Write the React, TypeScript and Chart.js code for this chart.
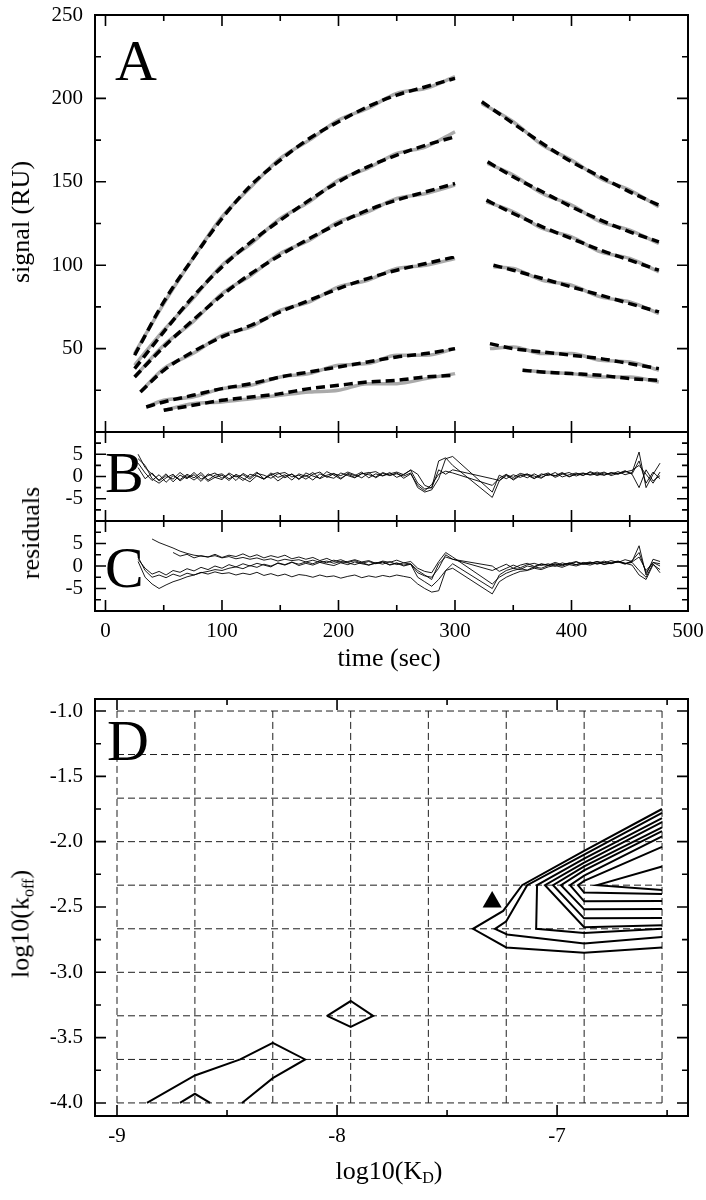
import React, { useEffect, useRef } from 'react';
import { Chart, registerables } from 'chart.js';
Chart.register(...registerables);

const FONT = '"Liberation Serif", "Times New Roman", serif';

// ---------- Panel A: sensorgrams (fit = black dashed, data = gray) ----------
const FIT1_ON_T = [25, 50, 75, 100, 125, 150, 175, 200, 225, 250, 275, 300];
const FIT1_ON = [46, 78, 104, 128, 148, 163, 176, 186, 195, 202, 207, 212];
const DAT1_ON = [47, 77, 104, 129, 147, 164, 175, 187, 194, 203, 206, 213];
const FIT1_OFF_T = [323, 350, 375, 400, 425, 450, 475];
const FIT1_OFF = [198, 185, 173, 162, 153, 144, 136];
const DAT1_OFF = [197, 186, 172, 163, 152, 145, 135];

const FIT2_ON_T = [25, 50, 75, 100, 125, 150, 175, 200, 225, 250, 275, 300];
const FIT2_ON = [38, 60, 81, 99, 114, 127, 139, 150, 159, 166, 172, 177];
const DAT2_ON = [40, 61, 80, 100, 113, 128, 138, 151, 158, 167, 171, 180];
const FIT2_OFF_T = [328, 350, 375, 400, 425, 450, 475];
const FIT2_OFF = [162, 153, 144, 135, 127, 120, 114];
const DAT2_OFF = [161, 154, 143, 136, 126, 121, 113];

const FIT3_ON_T = [25, 50, 75, 100, 125, 150, 175, 200, 225, 250, 275, 300];
const FIT3_ON = [33, 51, 67, 82, 95, 106, 116, 125, 133, 139, 144, 149];
const DAT3_ON = [33, 52, 66, 83, 94, 107, 115, 126, 132, 140, 143, 148];
const FIT3_OFF_T = [327, 350, 375, 400, 425, 450, 475];
const FIT3_OFF = [139, 131, 123, 116, 109, 103, 97];
const DAT3_OFF = [138, 132, 122, 117, 108, 104, 96];

const FIT4_ON_T = [30, 50, 75, 100, 125, 150, 175, 200, 225, 250, 275, 300];
const FIT4_ON = [24, 37, 48, 57, 64, 72, 79, 86, 92, 97, 101, 105];
const DAT4_ON = [24, 38, 47, 58, 63, 73, 78, 87, 91, 98, 100, 104];
const FIT4_OFF_T = [333, 350, 375, 400, 425, 450, 475];
const FIT4_OFF = [100, 97, 92, 87, 82, 77, 72];
const DAT4_OFF = [99, 98, 91, 88, 81, 78, 71];

const FIT5_ON_T = [35, 50, 75, 100, 125, 150, 175, 200, 225, 250, 275, 300];
const FIT5_ON = [15, 18, 22, 26, 29, 33, 36, 39, 42, 45, 47, 50];
const DAT5_ON = [15, 19, 21, 26, 28, 33, 35, 40, 41, 46, 46, 50];
const FIT5_OFF_T = [330, 350, 375, 400, 425, 450, 475];
const FIT5_OFF = [53, 50, 48, 46, 44, 41, 38];
const DAT5_OFF = [50, 51, 47, 47, 43, 42, 37];

const FIT6_ON_T = [50, 75, 100, 125, 150, 175, 200, 225, 250, 275, 300];
const FIT6_ON = [13, 16, 19, 21, 23, 26, 28, 30, 31, 33, 34];
const DAT6_ON = [13, 17, 18, 20, 22, 24, 25, 29, 29, 32, 35];
const FIT6_OFF_T = [358, 375, 400, 425, 450, 475];
const FIT6_OFF = [37, 36, 35, 34, 32, 31];
const DAT6_OFF = [37, 36, 35, 33, 33, 30];

// ---------- Panels B and C: residuals ----------
const RES_T = [28, 34, 40, 46, 52, 58, 64, 70, 76, 82, 88, 94, 100, 106, 112, 118, 124, 130, 136, 142,
  148, 154, 160, 166, 172, 178, 184, 190, 196, 202, 208, 214, 220, 226, 232, 238, 244, 250, 256, 262,
  268, 274, 280, 286, 292, 298,
  332, 338, 344, 350, 356, 362, 368, 374, 380, 386, 392, 398, 404, 410, 416, 422, 428, 434, 440, 446,
  452, 458, 464, 470, 476];

const RES_B1 = [5.0, 2.0, 0.5, -0.8, 0.6, -1.2, 0.3, -0.5, 0.9, -0.6, 0.2, 0.8, -0.4, 0.5, -0.9, 0.7, -0.2, 1.0, -0.5, 0.4,
  0.9, -0.3, 0.6, -0.7, 0.8, 0.1, -0.4, 1.1, 0.3, -0.6, 0.7, 0.2, 1.0, -0.3, 0.6, 0.1, 0.9, -0.2, 0.5, 1.4,
  -1.5, -2.8, -2.5, 3.5, 4.2, 2.5,
  -4.7, -1.0, 0.2, -0.6, 0.4, -0.3, 0.6, -0.2, 0.5, 0.1, 0.7, -0.1, 0.6, 0.3, 0.9, 0.2, 0.8, 0.5, 1.1, 0.4,
  0.9, 5.5, -2.5, 0.5, 3.0];
const RES_B2 = [3.0, 0.8, -0.9, 0.4, -1.3, 0.2, -0.7, 0.5, -0.3, 0.9, -0.8, 0.3, 0.6, -0.5, 0.2, -0.9, 0.5, 0.1, -0.6, 0.8,
  -0.2, 0.4, -0.8, 0.6, 0.0, 0.9, -0.5, 0.3, 0.7, -0.4, 0.5, -0.2, 0.6, 0.9, -0.3, 0.7, 0.2, 0.8, -0.4, 0.6,
  -2.0, -3.2, -1.8, 0.5, 1.2, 0.8,
  -2.0, -0.4, 0.5, -0.8, 0.2, 0.6, -0.4, 0.3, 0.8, -0.2, 0.5, 0.9, 0.1, 0.7, 0.4, 1.0, 0.3, 0.8, 0.5, 1.2,
  0.6, 3.5, -1.5, 1.0, -0.5];
const RES_B3 = [4.0, 2.5, -0.5, -1.5, -0.3, 0.5, -1.0, 0.2, -0.8, 0.4, -1.1, -0.2, 0.3, -0.9, 0.5, -0.4, -1.2, 0.2, -0.6, 0.4,
  -1.0, 0.1, 0.5, -0.5, 0.3, -0.8, 0.6, 0.0, -0.4, 0.8, 0.2, -0.3, 0.7, 0.4, -0.1, 0.9, 0.3, 0.6, 0.1, 0.8,
  -2.5, -3.5, -3.0, -0.5, 4.0, 4.5,
  -3.5, 0.3, -0.5, 0.4, -0.2, 0.5, 0.1, -0.4, 0.6, 0.2, 0.9, 0.0, 0.5, 0.8, 0.3, 0.6, 1.0, 0.2, 0.7, 1.3,
  0.5, -2.5, 1.5, -1.0, 0.2];
const RES_B4 = [2.0, -0.5, 0.8, -1.0, 0.2, -0.6, 0.9, -0.3, 0.4, -1.1, 0.6, -0.2, -0.7, 0.8, -0.1, 0.4, -0.6, 0.7, 0.3, -0.4,
  0.6, 0.9, -0.1, 0.3, -0.6, 0.5, 1.0, -0.2, 0.6, 0.2, 1.0, 0.4, -0.3, 0.8, 1.1, 0.2, 0.6, 1.0, 0.4, 1.5,
  0.5, -2.0, -2.6, 1.5, 0.5, 1.5,
  -0.5, -0.9, 0.4, -0.2, 0.7, 0.3, -0.5, 0.6, 0.2, 0.9, -0.1, 0.4, 0.8, 0.2, 1.1, 0.5, 0.3, 0.9, 0.6, 1.0,
  1.4, 2.5, 0.5, -1.5, 1.0];

const RES_C1 = [null, null, 6.0, 5.2, 4.6, 4.0, 3.3, 2.8, 2.4, 2.2, 2.0, 2.3, 1.8, 2.1, 1.6, 1.9, 1.5, 1.8, 1.3, 1.6,
  1.1, 1.5, 1.2, 1.4, 0.9, 1.3, 0.8, 1.1, 0.6, 1.0, 0.7, 0.3, 0.8, 0.2, 0.6, 0.9, 0.2, 0.6, 0.0, 0.4,
  -1.5, -2.2, -2.5, -0.5, 2.5, 1.5,
  -1.0, -0.3, 0.4, -0.5, 0.2, 0.6, -0.1, 0.5, 0.2, 0.8, 0.3, 0.6, 1.0, 0.4, 0.8, 0.5, 1.1, 0.6, 0.9, 0.4,
  1.2, 3.0, -1.5, 0.8, 0.5];
const RES_C2 = [1.0, -2.5, -4.0, -5.0, -4.2, -3.5, -3.0, -2.4, -2.0, -1.5, -1.2, -0.8, -1.0, -0.5, -0.2, -0.6, 0.1, -0.3, 0.4, 0.0,
  0.6, 0.2, 0.8, 0.4, 0.9, 0.5, 1.1, 0.7, 1.3, 0.8, 1.0, 1.4, 0.9, 1.2, 0.6, 1.1, 0.8, 1.3, 0.7, 1.0,
  -0.5, -1.2, -1.5, 1.0, 3.0, 2.0,
  -4.0, -2.5, -1.6, -1.0, -0.6, -0.9, -0.2, -0.5, 0.1, 0.4, 0.0, 0.6, 0.3, 0.8, 0.5, 1.0, 0.7, 1.2, 0.8, 1.4,
  1.0, 4.5, -2.0, 1.5, 1.0];
const RES_C3 = [2.0, -1.0, -2.5, -2.0, -2.6, -1.8, -2.3, -1.6, -2.0, -1.4, -1.8, -1.3, -1.7, -1.5, -2.0, -1.6, -1.9, -1.4, -2.1, -1.7,
  -2.2, -1.8, -2.4, -1.9, -2.1, -2.5, -2.0, -2.4, -2.2, -2.7, -2.3, -2.0, -2.6, -2.2, -2.5, -2.1, -2.4, -2.0, -2.3, -2.6,
  -4.0, -5.0, -5.8, -5.5, -1.0, -0.5,
  -6.2, -3.5, -2.5, -1.8, -1.2, -1.0, -0.5, -0.8, -0.2, 0.1, -0.3, 0.3, 0.0, 0.5, 0.2, 0.7, 0.4, 0.6, 1.0, 0.5,
  0.8, -1.0, -2.5, 0.5, -1.5];
const RES_C4 = [null, null, null, null, null, 3.0, 2.2, 2.6, 1.8, 2.3, 2.0, 2.6, 1.9, 2.4, 2.1, 2.7, 2.0, 2.5, 1.8, 2.3,
  1.9, 2.4, 1.6, 2.0, 1.5, 1.9, 1.2, 1.7, 1.0, 1.4, 0.8, 1.2, 0.6, 1.0, 0.5, 0.9, 0.3, 0.7, 0.2, 0.5,
  -1.0, -2.0, -3.0, 0.5, 2.0, 1.5,
  0.0, -1.2, -0.5, 0.2, -0.4, 0.3, 0.6, 0.1, 0.5, -0.1, 0.7, 0.3, 0.9, 0.4, 0.6, 1.0, 0.3, 0.8, 1.1, 0.6,
  0.9, 2.0, -1.0, 0.8, 0.0];
const RES_C5 = [1.5, -0.5, -1.8, -1.2, -2.0, -1.0, -1.4, -0.6, -1.1, -0.3, -0.8, 0.0, -0.5, 0.3, -0.2, 0.5, 0.0, 0.6, 0.2, -0.2,
  0.7, 0.3, 0.9, 0.1, 0.6, 0.2, 0.8, 0.4, 0.1, 0.7, 0.3, 0.9, 0.5, 0.2, 0.8, 0.4, 1.0, 0.3, 0.7, 0.4,
  -2.5, -3.5, -4.5, -3.0, -1.0, 0.5,
  -5.0, -2.0, -1.0, -0.5, -0.8, 0.0, -0.3, 0.4, 0.1, 0.5, 0.2, 0.7, 0.3, 0.6, 0.9, 0.4, 0.8, 0.5, 1.0, 0.6,
  0.2, -2.0, -3.0, 0.3, -0.8];

// ---------- Panel D: chi-square contour map ----------
const GRID_KD = [-9, -8.646, -8.292, -7.938, -7.585, -7.231, -6.877, -6.523];
const GRID_KOFF = [-4, -3.667, -3.333, -3, -2.667, -2.333, -2, -1.667, -1.333, -1];
const CONTOUR_1 = [[-8.864, -4], [-8.646, -3.79], [-8.44, -3.667], [-8.292, -3.54], [-8.145, -3.667], [-8.292, -3.81], [-8.432, -4]];
const CONTOUR_2 = [[-8.714, -4], [-8.646, -3.93], [-8.577, -4]];
const CONTOUR_3 = [[-8.045, -3.333], [-7.938, -3.22], [-7.836, -3.333], [-7.938, -3.418], [-8.045, -3.333]];
const CONTOUR_4 = [[-6.523, -1.75], [-6.877, -2.07], [-7.159, -2.333], [-7.245, -2.53], [-7.382, -2.667], [-7.231, -2.81], [-6.877, -2.85], [-6.523, -2.81]];
const CONTOUR_5 = [[-6.523, -1.78], [-6.877, -2.10], [-7.136, -2.333], [-7.231, -2.61], [-7.282, -2.667], [-7.227, -2.71], [-6.877, -2.78], [-6.523, -2.73]];
const CONTOUR_6 = [[-6.523, -1.82], [-6.877, -2.13], [-7.091, -2.333], [-7.095, -2.667], [-6.877, -2.70], [-6.523, -2.667]];
const CONTOUR_7 = [[-6.523, -1.85], [-6.877, -2.16], [-7.055, -2.333], [-6.877, -2.655], [-6.523, -2.64]];
const CONTOUR_8 = [[-6.523, -1.89], [-6.877, -2.19], [-7.018, -2.333], [-6.877, -2.587], [-6.523, -2.585]];
const CONTOUR_9 = [[-6.523, -1.92], [-6.877, -2.22], [-6.982, -2.333], [-6.877, -2.518], [-6.523, -2.515]];
const CONTOUR_10 = [[-6.523, -1.96], [-6.877, -2.26], [-6.941, -2.333], [-6.877, -2.457], [-6.523, -2.455]];
const CONTOUR_11 = [[-6.523, -2.04], [-6.877, -2.30], [-6.905, -2.333], [-6.877, -2.39], [-6.523, -2.40]];
const CONTOUR_12 = [[-6.523, -2.19], [-6.818, -2.333], [-6.523, -2.37]];
const BEST_FIT = [[-7.295, -2.462]];

// ---------- ticks ----------
const TIME_LABELS = [0, 100, 200, 300, 400, 500];
const TIME_MINOR = [50, 150, 250, 350, 450];
const SIGNAL_LABELS = [50, 100, 150, 200, 250];
const SIGNAL_MINOR = [25, 75, 125, 175, 225];
const RES_LABELS = [-5, 0, 5];
const RES_MINOR = [-7.5, -2.5, 2.5, 7.5];
const KD_LABELS = [-9, -8, -7];
const KD_MINOR = [-8.5, -7.5, -6.5];
const KOFF_LABELS = [-4, -3.5, -3, -2.5, -2, -1.5, -1];
const KOFF_MINOR = [-3.75, -3.25, -2.75, -2.25, -1.75, -1.25];

const tickFont = { family: FONT, size: 21 };

const framePlugin = {
  id: 'frame',
  afterDraw(chart: any, _args: any, opts: any) {
    const { ctx, chartArea, scales } = chart;
    const { left, right, top, bottom } = chartArea;
    const xs = scales.x;
    const ys = scales.y;
    ctx.save();
    ctx.strokeStyle = '#000';
    ctx.lineWidth = 1.6;
    ctx.beginPath();
    const seg = (x1: number, y1: number, x2: number, y2: number) => { ctx.moveTo(x1, y1); ctx.lineTo(x2, y2); };
    const xt = (vals: number[], len: number) => (vals || []).forEach((v) => {
      const p = xs.getPixelForValue(v);
      if (p <= left + 1 || p >= right - 1) return;
      seg(p, bottom, p, bottom - len); seg(p, top, p, top + len);
    });
    const yt = (vals: number[], len: number) => (vals || []).forEach((v) => {
      const p = ys.getPixelForValue(v);
      if (p <= top + 1 || p >= bottom - 1) return;
      seg(left, p, left + len, p); seg(right, p, right - len, p);
    });
    xt(opts.xMajor, 11); xt(opts.xMinor, 6); yt(opts.yMajor, 11); yt(opts.yMinor, 6);
    ctx.stroke();
    ctx.lineWidth = 2;
    ctx.strokeRect(left, top, right - left, bottom - top);
    if (opts.letter) {
      ctx.font = `58px ${FONT}`;
      ctx.fillStyle = '#000';
      ctx.textBaseline = 'alphabetic';
      ctx.textAlign = 'left';
      ctx.fillText(opts.letter, left + opts.dx, top + opts.dy);
    }
    ctx.restore();
  },
};

function yAxis(min: number, max: number, labels: number[], fmt?: (v: number) => string) {
  return {
    type: 'linear', min, max,
    afterFit: (s: any) => { s.width = 95; s.paddingTop = 0; s.paddingBottom = 0; },
    afterBuildTicks: (s: any) => { s.ticks = labels.map((v) => ({ value: v })); },
    grid: { display: false, drawTicks: false },
    border: { display: false },
    ticks: { font: tickFont, color: '#000', padding: 12, callback: (v: any) => (fmt ? fmt(Number(v)) : String(v)) },
  };
}

function xAxis(min: number, max: number, labels: number[] | null) {
  if (!labels) {
    return { type: 'linear', min, max, display: false, afterFit: (s: any) => { s.height = 0; s.paddingLeft = 0; s.paddingRight = 0; } };
  }
  return {
    type: 'linear', min, max,
    afterFit: (s: any) => { s.height = 30; s.paddingLeft = 0; s.paddingRight = 0; },
    afterBuildTicks: (s: any) => { s.ticks = labels.map((v) => ({ value: v })); },
    grid: { display: false, drawTicks: false },
    border: { display: false },
    ticks: { font: tickFont, color: '#000', padding: 8, maxRotation: 0, autoSkip: false, callback: (v: any) => String(v) },
  };
}

function baseOptions(padding: any, x: any, y: any, frame: any) {
  return {
    responsive: false,
    animation: false,
    events: [],
    layout: { padding },
    plugins: { legend: { display: false }, tooltip: { enabled: false }, frame },
    scales: { x, y },
  };
}

const pts = (t: number[], v: (number | null)[]) => t.map((x, i) => ({ x, y: v[i] }));

function fitSet(t: number[], v: number[]) {
  return { data: pts(t, v), borderColor: '#000', borderWidth: 3.5, borderDash: [9, 5], pointRadius: 0, cubicInterpolationMode: 'monotone', order: 1 };
}
function datSet(t: number[], v: number[]) {
  return { data: pts(t, v), borderColor: '#aaaaaa', borderWidth: 3.5, pointRadius: 0, cubicInterpolationMode: 'monotone', order: 2 };
}
function resSet(v: (number | null)[]) {
  return { data: pts(RES_T, v), borderColor: '#000', borderWidth: 0.9, pointRadius: 0, spanGaps: false };
}
function lineSet(p: number[][], dashed = false) {
  return {
    data: p.map(([x, y]) => ({ x, y })), showLine: true, pointRadius: 0,
    borderColor: dashed ? '#1e1e1e' : '#000', borderWidth: dashed ? 1 : 2, borderDash: dashed ? [7, 4] : [],
  };
}

export default function App() {
  const aRef = useRef<HTMLCanvasElement>(null);
  const bRef = useRef<HTMLCanvasElement>(null);
  const cRef = useRef<HTMLCanvasElement>(null);
  const dRef = useRef<HTMLCanvasElement>(null);

  useEffect(() => {
    const charts: Chart[] = [];
    const timeFrame = { xMajor: TIME_LABELS, xMinor: TIME_MINOR };

    charts.push(new Chart(aRef.current!, {
      type: 'line',
      data: {
        datasets: [
          fitSet(FIT1_ON_T, FIT1_ON), fitSet(FIT1_OFF_T, FIT1_OFF),
          fitSet(FIT2_ON_T, FIT2_ON), fitSet(FIT2_OFF_T, FIT2_OFF),
          fitSet(FIT3_ON_T, FIT3_ON), fitSet(FIT3_OFF_T, FIT3_OFF),
          fitSet(FIT4_ON_T, FIT4_ON), fitSet(FIT4_OFF_T, FIT4_OFF),
          fitSet(FIT5_ON_T, FIT5_ON), fitSet(FIT5_OFF_T, FIT5_OFF),
          fitSet(FIT6_ON_T, FIT6_ON), fitSet(FIT6_OFF_T, FIT6_OFF),
          datSet(FIT1_ON_T, DAT1_ON), datSet(FIT1_OFF_T, DAT1_OFF),
          datSet(FIT2_ON_T, DAT2_ON), datSet(FIT2_OFF_T, DAT2_OFF),
          datSet(FIT3_ON_T, DAT3_ON), datSet(FIT3_OFF_T, DAT3_OFF),
          datSet(FIT4_ON_T, DAT4_ON), datSet(FIT4_OFF_T, DAT4_OFF),
          datSet(FIT5_ON_T, DAT5_ON), datSet(FIT5_OFF_T, DAT5_OFF),
          datSet(FIT6_ON_T, DAT6_ON), datSet(FIT6_OFF_T, DAT6_OFF),
        ] as any,
      },
      options: baseOptions({ top: 15, bottom: 1, left: 0, right: 18 }, xAxis(-9, 500, null),
        yAxis(0, 250, SIGNAL_LABELS),
        { ...timeFrame, yMajor: SIGNAL_LABELS, yMinor: SIGNAL_MINOR, letter: 'A', dx: 20, dy: 65 }) as any,
      plugins: [framePlugin],
    }));

    charts.push(new Chart(bRef.current!, {
      type: 'line',
      data: { datasets: [resSet(RES_B1), resSet(RES_B2), resSet(RES_B3), resSet(RES_B4)] as any },
      options: baseOptions({ top: 12, bottom: 12, left: 0, right: 18 }, xAxis(-9, 500, null),
        yAxis(-10, 10, RES_LABELS),
        { ...timeFrame, yMajor: RES_LABELS, yMinor: RES_MINOR, letter: 'B', dx: 10, dy: 60 }) as any,
      plugins: [framePlugin],
    }));

    charts.push(new Chart(cRef.current!, {
      type: 'line',
      data: { datasets: [resSet(RES_C1), resSet(RES_C2), resSet(RES_C3), resSet(RES_C4), resSet(RES_C5)] as any },
      options: baseOptions({ top: 12, bottom: 18, left: 0, right: 18 }, xAxis(-9, 500, TIME_LABELS),
        yAxis(-10, 10, RES_LABELS),
        { ...timeFrame, yMajor: RES_LABELS, yMinor: RES_MINOR, letter: 'C', dx: 10, dy: 66 }) as any,
      plugins: [framePlugin],
    }));

    const gridSets = [
      ...GRID_KD.map((g) => lineSet([[g, -4], [g, -1]], true)),
      ...GRID_KOFF.map((g) => lineSet([[-9, g], [-6.523, g]], true)),
    ];
    charts.push(new Chart(dRef.current!, {
      type: 'scatter',
      data: {
        datasets: [
          { data: BEST_FIT.map(([x, y]) => ({ x, y })), pointStyle: 'triangle', pointRadius: 11, backgroundColor: '#000', borderColor: '#000', borderWidth: 0 },
          lineSet(CONTOUR_1), lineSet(CONTOUR_2), lineSet(CONTOUR_3), lineSet(CONTOUR_4), lineSet(CONTOUR_5),
          lineSet(CONTOUR_6), lineSet(CONTOUR_7), lineSet(CONTOUR_8), lineSet(CONTOUR_9), lineSet(CONTOUR_10),
          lineSet(CONTOUR_11), lineSet(CONTOUR_12),
          ...gridSets,
        ] as any,
      },
      options: baseOptions({ top: 19, bottom: 14, left: 0, right: 18 }, xAxis(-9.1, -6.405, KD_LABELS),
        yAxis(-4.1, -0.908, KOFF_LABELS, (v) => v.toFixed(1)),
        { xMajor: KD_LABELS, xMinor: KD_MINOR, yMajor: KOFF_LABELS, yMinor: KOFF_MINOR, letter: 'D', dx: 12, dy: 61 }) as any,
      plugins: [framePlugin],
    }));

    return () => charts.forEach((c) => c.destroy());
  }, []);

  const title: React.CSSProperties = { position: 'absolute', fontFamily: FONT, fontSize: 26, color: '#000', whiteSpace: 'nowrap', lineHeight: 1 };
  const rot = (x: number, y: number): React.CSSProperties => ({ ...title, left: x, top: y, transform: 'translate(-50%, -50%) rotate(-90deg)' });
  const hor = (x: number, y: number): React.CSSProperties => ({ ...title, left: x, top: y, transform: 'translate(-50%, -50%)' });
  const sub: React.CSSProperties = { fontSize: '0.62em', verticalAlign: '-0.3em' };

  return (
    <div style={{ position: 'absolute', left: 0, top: 0, width: 706, height: 1200, background: '#fff', overflow: 'hidden' }}>
      <canvas ref={aRef} width={706} height={433} style={{ position: 'absolute', left: 0, top: 0 }} />
      <canvas ref={bRef} width={706} height={113} style={{ position: 'absolute', left: 0, top: 420 }} />
      <canvas ref={cRef} width={706} height={150} style={{ position: 'absolute', left: 0, top: 509 }} />
      <canvas ref={dRef} width={706} height={480} style={{ position: 'absolute', left: 0, top: 680 }} />
      <div style={rot(21, 222)}>signal (RU)</div>
      <div style={rot(31, 533)}>residuals</div>
      <div style={hor(389, 658)}>time (sec)</div>
      <div style={rot(22, 924)}>log10(k<span style={sub}>off</span>)</div>
      <div style={hor(389, 1172)}>log10(K<span style={sub}>D</span>)</div>
    </div>
  );
}
